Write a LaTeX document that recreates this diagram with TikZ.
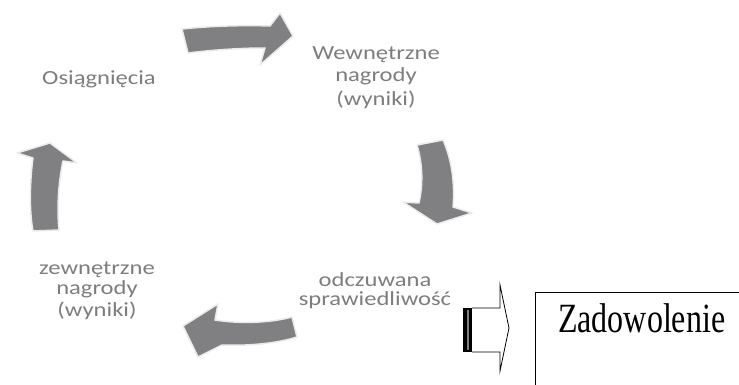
\documentclass[tikz,border=0pt]{standalone}
\usepackage{fontspec}
\setmainfont{Liberation Serif}
\newfontfamily\calib{Carlito}
\newcommand\widetxt[1]{\scalebox{1.23}[1]{#1}}
\definecolor{arrowgray}{RGB}{128,128,130}
\definecolor{textgray}{RGB}{125,125,125}
\definecolor{rimgray}{RGB}{235,235,235}
\begin{document}
\begin{tikzpicture}[x=1pt,y=-1pt,
  cyc/.style={fill=arrowgray, draw=rimgray, line width=1.5pt, line join=round},
  lbl/.style={font=\calib\fontsize{20}{22}\selectfont, text=textgray, anchor=base, inner sep=0pt},
  outl/.style={draw=black, line width=0.8pt, line join=miter},
]
\useasboundingbox (0,0) rectangle (739,385);
\clip (0,0) rectangle (739,385);

% cycle arrows
\path[cyc] (182,29) .. controls (210,26) and (245,25) .. (270,26) -- (280,13) -- (293,36) -- (260,65) -- (265,48)
  .. controls (240,48) and (212,50) .. (188,53) -- cycle;
\path[cyc] (417,145) -- (443,140) .. controls (452,160) and (455,185) .. (453,207) -- (472,213) -- (437,224) -- (403,202) -- (419,203)
  .. controls (423,185) and (423,165) .. (417,145) -- cycle;
\path[cyc] (183,326) -- (218,304) -- (215,320) .. controls (240,324) and (270,323) .. (292,317) -- (297,337)
  .. controls (275,344) and (245,346) .. (222,345) -- (198,357) -- cycle;
\path[cyc] (50,143) -- (77,163) -- (63,161) .. controls (58,185) and (57,210) .. (59,230) -- (33,231)
  .. controls (29,210) and (30,180) .. (33,158) -- (17,153) -- cycle;

% labels
\node[lbl] (osi) at (99,85) {\widetxt{Osiągnięcia}};
\node[lbl] (wew1) at (376,60) {\widetxt{Wewnętrzne}};
\node[lbl] (wew2) at (376,82) {\widetxt{nagrody}};
\node[lbl] (wew3) at (376,106) {\widetxt{(wyniki)}};
\node[lbl] (zew1) at (97,274) {\widetxt{zewnętrzne}};
\node[lbl] (zew2) at (97,294) {\widetxt{nagrody}};
\node[lbl] (zew3) at (97,316) {\widetxt{(wyniki)}};
\node[lbl] (odc1) at (375,286) {\widetxt{odczuwana}};
\node[lbl] (odc2) at (375,305) {\widetxt{sprawiedliwość}};

% hollow block arrow
\path[outl] (472,308) -- (500,308) -- (500,285) -- (509,328) -- (500,371) -- (500,352) -- (472,352);
\fill[black] (463,308) rectangle (472,352);
\fill[gray] (467,310) rectangle (469,350);

% box
\draw[line width=1pt] (535,400) -- (535,292) -- (750,292);
\node[anchor=base west, inner sep=0pt, font=\fontsize{32}{36}\selectfont] (zad) at (558,332) {\scalebox{1}[1.3]{Zadowolenie}};
\end{tikzpicture}
\end{document}
